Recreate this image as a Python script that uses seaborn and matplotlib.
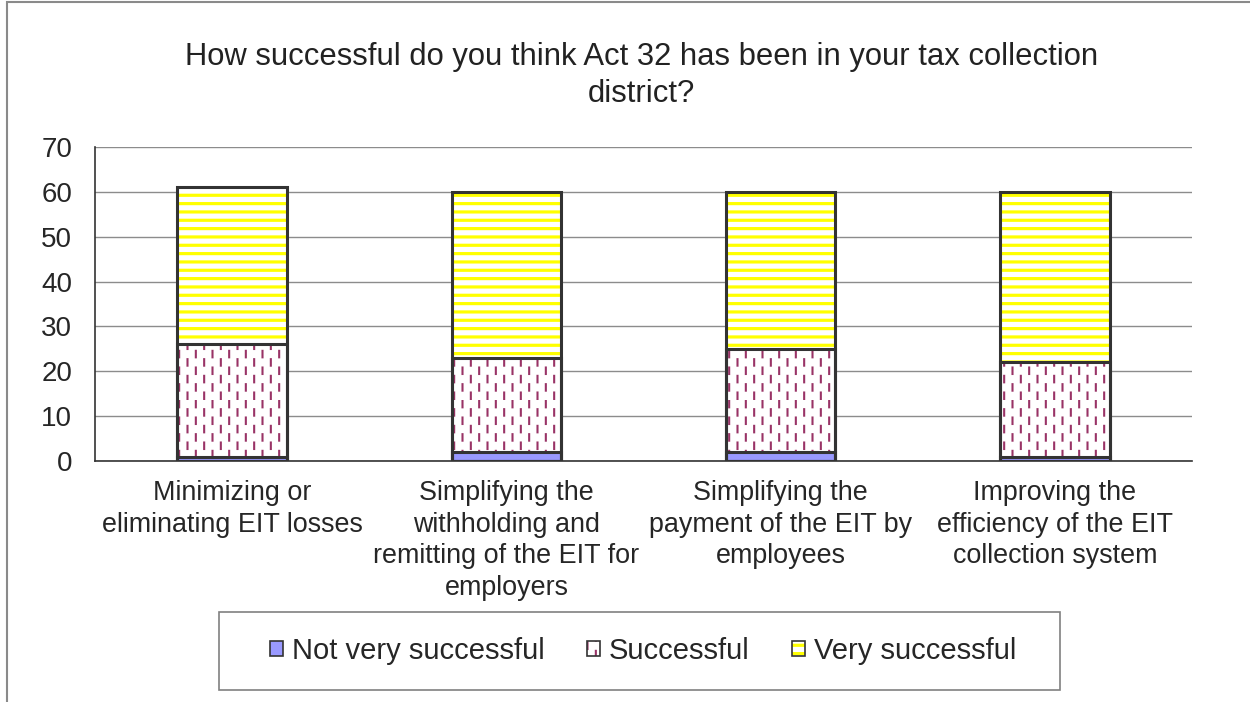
import warnings
import matplotlib
matplotlib.use("Agg")
import matplotlib.pyplot as plt
import matplotlib.hatch as mhatch
from matplotlib.path import Path
from matplotlib.patches import Patch, Rectangle
from matplotlib.legend_handler import HandlerTuple
import pandas as pd
import seaborn as sns

warnings.filterwarnings("ignore")

# data
categories = ["Minimizing or eliminating EIT losses",
              "Simplifying the withholding and remitting of the EIT for employers",
              "Simplifying the payment of the EIT by employees",
              "Improving the efficiency of the EIT collection system"]
tick_labels = ["Minimizing or\neliminating EIT losses",
               "Simplifying the\nwithholding and\nremitting of the EIT for\nemployers",
               "Simplifying the\npayment of the EIT by\nemployees",
               "Improving the\nefficiency of the EIT\ncollection system"]
not_very = [1, 2, 2, 1]
successful = [25, 21, 23, 21]
very = [35, 37, 35, 38]
series_names = ["Not very successful", "Successful", "Very successful"]
title = "How successful do you think Act 32 has been in your tax collection\ndistrict?"


# excel-like fill patterns as extra hatch types
class DashedVertical(mhatch.HatchPatternBase):
    # staggered short vertical dashes, letter 'v'
    def __init__(self, hatch, density):
        self.ncols = hatch.count("v") * 12
        self.nrows = 6
        self.num_vertices = self.ncols * self.nrows * 2

    def set_vertices_and_codes(self, vertices, codes):
        k = 0
        for i in range(self.ncols):
            x = (i + 0.5) / self.ncols
            for j in range(self.nrows):
                y = (j + 0.5 * (i % 2)) / self.nrows + 0.01
                vertices[k] = (x, y)
                vertices[k + 1] = (x, y + 0.065)
                codes[k] = Path.MOVETO
                codes[k + 1] = Path.LINETO
                k += 2


class ThickHorizontal(mhatch.HatchPatternBase):
    # wide horizontal stripes, letter 'h'
    def __init__(self, hatch, density):
        self.nlines = hatch.count("h") * 12
        self.num_vertices = self.nlines * 4

    def set_vertices_and_codes(self, vertices, codes):
        k = 0
        for i in range(self.nlines):
            y = (i + 0.5) / self.nlines
            for off in (0.0, 0.011):
                vertices[k] = (0.0, y + off)
                vertices[k + 1] = (1.0, y + off)
                codes[k] = Path.MOVETO
                codes[k + 1] = Path.LINETO
                k += 2


mhatch._hatch_types.append(DashedVertical)
mhatch._hatch_types.append(ThickHorizontal)

df = pd.DataFrame({"category": categories, "not_very": not_very,
                   "successful": successful, "very": very})
df["lvl1"] = df["not_very"]
df["lvl2"] = df["lvl1"] + df["successful"]
df["lvl3"] = df["lvl2"] + df["very"]

sns.set_style("white")
plt.rcParams["font.family"] = ["Liberation Sans", "DejaVu Sans"]
plt.rcParams["hatch.linewidth"] = 1.5

EDGE = "#333333"
BLUE = "#9999FF"
PURPLE = "#993366"
YELLOW = "#FFFF00"

fig = plt.figure(figsize=(12.5, 7.02), dpi=100)
ax = fig.add_axes([0.076, 0.3433, 0.8776, 0.4473])

# cumulative layers drawn back to front, then outlines
sns.barplot(data=df, x="category", y="lvl3", width=0.4, facecolor="white",
            edgecolor=YELLOW, linewidth=0, hatch="h", ax=ax)
sns.barplot(data=df, x="category", y="lvl2", width=0.4, facecolor="white",
            edgecolor=PURPLE, linewidth=0, hatch="v", ax=ax)
sns.barplot(data=df, x="category", y="lvl1", width=0.4, facecolor=BLUE,
            edgecolor=BLUE, linewidth=0, ax=ax)
for col in ["lvl3", "lvl2", "lvl1"]:
    sns.barplot(data=df, x="category", y=col, width=0.4, fill=False,
                color=EDGE, linewidth=2.2, ax=ax)

ax.set_ylim(0, 70)
ax.set_xlim(-0.5, 3.5)
ax.set_yticks(range(0, 71, 10))
ax.set_xticks(range(len(categories)))
ax.set_xticklabels(tick_labels, fontsize=19.4, linespacing=1.27)
ax.set_xticks([i - 0.5 for i in range(len(categories) + 1)], minor=True)
ax.tick_params(axis="x", which="major", length=0, pad=14)
ax.tick_params(axis="x", which="minor", length=5.8, color="#999999", width=1)
ax.tick_params(axis="y", length=5, color="#8c8c8c", width=1, labelsize=20, pad=11.5)
ax.set_xlabel("")
ax.set_ylabel("")
ax.yaxis.grid(True, color="#8c8c8c", linewidth=1)
ax.xaxis.grid(False)
ax.set_axisbelow(True)
for s in ["top", "right"]:
    ax.spines[s].set_visible(False)
for s in ["left", "bottom"]:
    ax.spines[s].set_color(EDGE)
    ax.spines[s].set_linewidth(1.2)

fig.text(0.513, 0.8925, title, fontsize=22.3, ha="center", va="center",
         linespacing=1.3, color="#222222")

# legend
h_blue = Patch(facecolor=BLUE, edgecolor=EDGE, linewidth=1.2)
h_succ = (Patch(facecolor="white", edgecolor=PURPLE, linewidth=0, hatch="v"),
          Patch(fill=False, edgecolor=EDGE, linewidth=1.2))
h_very = (Patch(facecolor="white", edgecolor=YELLOW, linewidth=0, hatch="h"),
          Patch(fill=False, edgecolor=EDGE, linewidth=1.2))
fig.legend([h_blue, h_succ, h_very], series_names, loc="center",
           bbox_to_anchor=(0.5144, 0.0726), ncol=3, fontsize=21,
           frameon=False, handlelength=0.45, handleheight=0.45,
           handletextpad=0.3, columnspacing=1.45,
           handler_map={tuple: HandlerTuple(ndivide=1)})
# legend box
fig.patches.append(Rectangle((219 / 1250, 12 / 702), 841 / 1250, 78 / 702,
                             fill=False, edgecolor="#808080", linewidth=1.2,
                             transform=fig.transFigure, figure=fig))

# outer chart border (left and top visible)
fig.patches.append(Rectangle((7 / 1250, -0.1), 1.2, 1.1 - 2 / 702, fill=False,
                             edgecolor="#8a8a8a", linewidth=1.5,
                             transform=fig.transFigure, figure=fig))

fig.savefig("out.png", dpi=100)
